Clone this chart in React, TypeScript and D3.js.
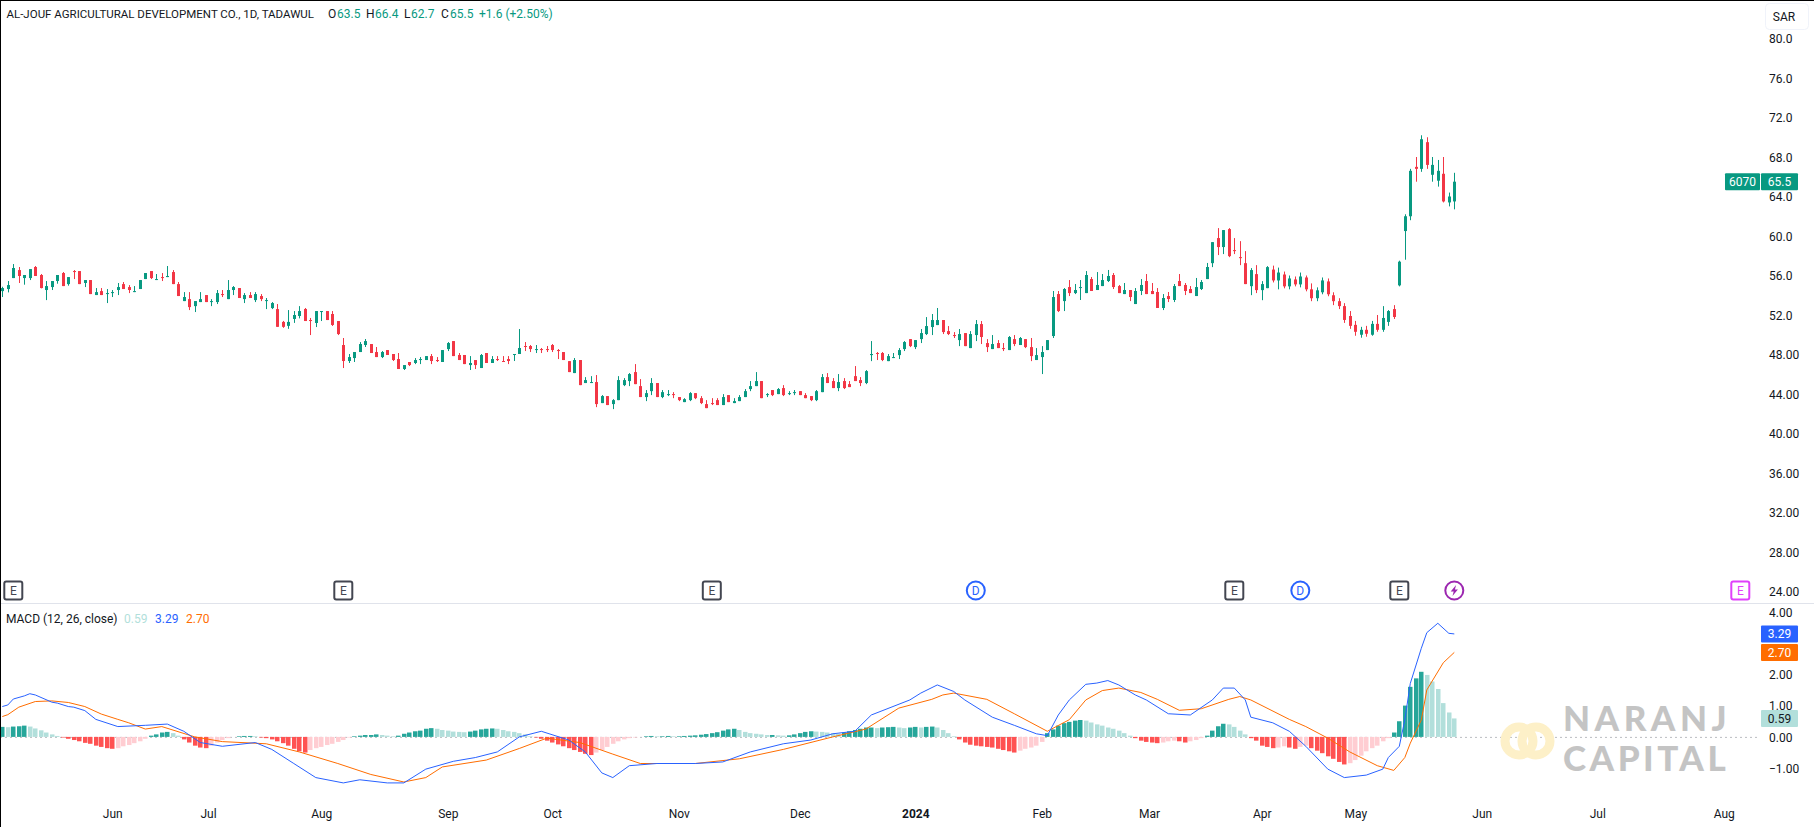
import { useRef, useEffect } from 'react'
import * as d3 from 'd3'

const WIDTH = 1814
const HEIGHT = 827

const opens = [54.42,54.63,55.74,56.55,55.74,55.74,56.86,56.05,54.53,54.83,55.44,56.25,55.13,56.45,56.45,55.24,55.54,54.02,54.42,54.12,54.22,54.53,55.13,54.83,54.32,54.63,55.64,56.45,55.54,55.84,55.84,56.35,55.13,53.41,53.61,52.9,53.31,54.02,53.31,53.31,54.12,53.61,54.53,54.73,53.61,54.02,53.51,53.92,53.41,52.7,52.6,51.3,50.9,51.6,51.9,52.61,51.49,51.19,52.3,52.4,52.1,51.39,48.96,47.34,47.64,48.25,48.96,49.06,48.25,47.74,48.45,48.05,47.54,46.53,47.24,47.14,47.44,47.44,47.84,47.44,47.24,48.55,49.36,47.95,47.95,46.93,47.44,46.63,48.15,47.14,47.54,47.34,47.54,47.95,48.05,48.86,48.86,48.45,48.55,48.55,48.96,48.45,48.25,47.33,46.12,47.44,45.11,45.11,45.21,43.08,43.79,42.98,43.38,44.9,45.31,46.22,44.8,43.69,44.29,45.11,43.69,43.89,43.99,43.69,43.18,43.38,44.09,43.58,42.98,43.08,43.38,42.88,43.89,43.08,43.28,43.69,44.5,44.8,45.31,43.89,44.4,43.99,44.6,43.99,44.09,44.29,43.89,43.79,43.38,44.19,45.71,45.31,44.6,45.31,45.0,45.81,45.41,45.11,47.94,48.15,48.15,47.33,47.64,47.94,48.55,49.56,48.75,49.56,50.07,50.78,50.98,51.49,50.37,49.97,49.46,50.17,48.65,49.97,51.08,49.16,48.55,49.16,48.65,48.45,49.56,48.96,49.56,48.75,47.44,47.74,48.45,49.87,54.12,53.41,54.83,54.22,54.73,54.22,55.64,54.53,54.93,55.44,56.05,54.93,54.12,54.53,53.11,54.43,55.44,54.43,54.33,52.71,53.92,53.52,55.44,55.04,54.63,53.92,54.63,55.64,57.25,59.79,58.88,60.7,58.57,57.86,57.25,54.92,56.14,54.52,54.72,56.6,55.5,56.1,54.9,55.6,55.1,55.8,54.6,53.7,54.3,55.4,54,53.4,52.9,51.9,51,50,50.5,50,51.1,50.5,51.3,52.6,55,60.5,62,67,66.8,69.5,66.2,65.6,66.3,63.4,63.5]
const highs = [54.86,55.44,57.16,56.86,56.05,56.65,56.96,56.15,55.44,55.44,56.05,56.35,55.84,56.55,56.45,55.54,55.54,54.73,54.73,54.63,54.53,55.24,55.34,55.03,54.93,55.54,56.25,56.45,56.15,56.25,56.96,56.55,55.34,54.32,54.32,53.41,54.32,54.02,53.61,54.53,54.53,55.54,54.93,54.73,54.22,54.32,54.32,54.12,53.72,53.31,53.11,51.4,52.5,52.4,52.9,52.71,51.7,52.4,52.4,52.4,52.4,51.39,49.67,48.05,48.25,49.26,49.57,49.06,48.76,48.35,48.45,48.05,48.15,46.93,47.24,47.64,47.74,47.84,48.05,47.74,48.45,49.26,49.36,48.15,47.95,47.84,47.44,48.05,48.15,47.84,47.84,47.84,47.84,48.05,50.58,49.26,48.96,48.96,48.66,48.86,49.06,48.55,48.25,47.33,47.64,47.44,45.71,45.81,45.92,43.89,43.79,43.48,45.81,45.61,46.12,47.03,45.51,44.4,45.61,45.11,44.4,44.4,44.19,43.69,43.58,44.19,44.09,43.79,43.38,43.58,43.58,43.99,43.89,43.58,43.89,44.5,45.31,46.22,45.31,44.09,44.4,44.6,44.9,44.29,44.4,44.29,44.09,43.79,44.4,46.02,46.12,45.61,46.02,45.61,45.31,46.83,45.71,46.42,49.36,48.25,48.25,48.05,48.15,48.65,49.36,49.56,49.46,50.58,51.79,52.1,52.71,51.49,50.88,50.27,50.58,50.17,50.37,51.49,51.39,49.56,49.97,49.46,49.16,49.87,49.97,49.77,49.56,49.67,48.65,48.85,49.46,54.43,54.43,54.73,55.54,55.14,55.54,56.45,55.85,56.35,56.15,56.56,56.25,55.04,55.24,54.53,54.73,55.64,56.15,55.24,54.73,54.12,54.33,55.14,56.15,55.24,54.93,55.75,55.54,57.27,59.38,60.8,60.6,60.8,59.79,59.48,58.47,56.75,57.05,55.43,56.95,57,56.8,56.4,56,55.9,56.3,56,55.2,54.8,55.8,55.7,54.3,53.7,53.2,52.4,51.4,50.8,50.9,51.4,52,52.9,52.5,53,57.5,62.2,66.8,68,70.2,70,68,67.7,68,64.4,66.4]
const lows = [53.82,54.29,55.74,55.24,55.07,55.54,55.95,54.7,53.51,54.53,55.17,54.93,54.97,55.64,55.13,54.83,54.12,54.02,54.02,53.21,53.82,54.02,54.63,54.22,54.32,54.63,55.64,55.64,55.54,55.44,55.84,55.13,53.92,53.41,52.5,52.3,53.31,53.31,52.9,53.11,53.82,53.61,54.02,53.72,53.21,53.72,53.31,53.41,52.6,52.6,50.8,50.7,50.6,51.2,51.66,51.39,49.97,50.78,51.39,51.49,50.89,49.97,46.63,47.14,47.24,48.25,48.76,48.15,47.74,47.64,47.95,47.34,46.53,46.43,46.83,47.03,47.03,47.44,47.03,47.24,47.24,48.35,47.84,47.44,47.03,46.43,46.53,46.63,47.14,47.14,47.34,47.24,47.03,47.34,48.05,48.35,48.25,48.15,48.15,48.25,48.25,47.54,47.44,46.22,46.12,44.9,45.11,45.11,42.67,43.08,42.88,42.47,43.38,44.8,44.8,45.0,43.69,43.28,43.89,43.69,43.58,43.79,43.58,43.28,43.18,43.28,43.48,42.98,42.57,42.88,42.88,42.88,43.18,43.08,43.28,43.69,44.29,44.8,43.58,43.69,43.79,43.99,43.79,43.89,43.89,43.89,43.58,43.28,43.28,44.19,45.11,44.6,44.29,44.5,44.7,45.31,44.8,45.0,47.33,47.44,47.33,47.33,47.64,47.54,48.35,48.75,48.55,49.16,49.97,49.97,50.98,50.07,49.97,49.67,48.85,48.85,48.65,49.36,49.06,48.25,48.55,48.65,48.35,48.45,48.85,48.96,48.65,47.33,47.44,46.02,48.45,49.67,52.3,52.4,53.92,54.12,53.52,54.22,54.43,54.53,54.93,55.34,54.63,54.22,54.12,53.41,53.11,54.02,54.12,54.12,52.71,52.5,53.31,53.31,54.93,54.02,54.22,53.92,54.53,55.64,56.85,58.07,58.17,57.86,58.17,57.05,55.13,54.01,54.22,53.5,54.72,55.3,54.6,54.7,54.6,54.9,54.8,54.4,53.4,53.4,54.1,53.9,53,52.6,51.2,50.6,49.9,49.7,49.8,49.9,50.3,50.3,50.9,51.6,54.9,57.6,61.6,65.5,66.5,66.8,65.5,65,63.4,63,62.7]
const closes = [54.73,55.03,56.76,55.95,56.05,56.65,55.95,54.73,54.93,55.44,56.05,54.93,55.84,56.35,55.13,55.54,54.12,54.32,54.02,54.22,54.32,54.83,54.63,54.53,54.42,55.54,56.25,55.74,55.64,55.74,55.95,55.13,53.92,53.82,52.8,53.41,53.61,53.31,53.41,54.22,54.02,54.53,54.83,53.72,54.02,53.72,54.12,53.61,53.51,53.21,50.8,50.8,51.3,52,52.4,51.39,51.39,52.4,52.4,51.49,50.99,50.07,47.34,47.74,48.25,49.06,49.36,48.15,47.74,48.25,47.95,47.44,46.53,46.93,46.93,47.44,47.54,47.84,47.34,47.34,48.45,49.16,47.84,47.44,47.03,47.14,46.93,47.95,47.14,47.54,47.44,47.24,47.34,48.05,48.66,48.76,48.55,48.55,48.45,48.45,48.45,48.35,47.44,46.22,47.44,44.9,45.41,45.21,42.98,43.79,42.88,43.38,45.41,45.41,46.02,45.0,43.69,44.09,45.11,43.69,44.19,43.99,43.89,43.38,43.48,44.09,43.58,43.08,42.57,42.98,42.88,43.69,43.18,43.28,43.69,44.29,44.8,45.31,43.58,43.99,43.89,44.5,43.89,44.09,44.19,43.89,43.58,43.38,44.29,45.71,45.11,44.6,45.21,44.6,44.7,45.31,45.11,46.32,48.05,48.05,47.44,47.84,47.74,48.45,49.26,48.85,49.46,50.17,50.88,51.49,51.49,50.27,50.07,49.87,50.07,48.85,50.07,51.08,49.77,48.75,49.06,48.65,48.55,49.77,49.06,49.67,48.75,47.84,47.94,48.25,49.46,53.82,52.4,54.63,54.22,54.53,54.83,56.05,54.43,55.04,55.54,55.95,54.83,54.22,54.53,53.82,54.43,55.04,54.12,54.12,52.71,53.72,53.62,54.93,54.93,54.43,54.22,54.83,55.34,56.86,59.38,58.88,60.6,57.96,58.47,57.76,55.13,56.55,54.52,55.13,56.85,55.5,56.3,54.9,55.7,55.1,55.9,54.6,53.7,54.5,55.5,54.1,53.4,52.9,51.5,50.9,50.3,50.5,50.1,51.1,50.5,51.7,52.4,51.8,57.4,62,66.6,66.8,69.8,67.2,67.2,66.6,63.5,64,65.5]

const histogram = [
  .32,.31,.33,.34,.36,.33,.27,.21,.14,.08,
  .03,-.02,-.06,-.10,-.14,-.19,-.22,-.28,-.32,-.36,
  -.38,-.36,-.30,-.26,-.20,-.14,-.06,.04,.08,.14,
  .16,.12,.04,-.08,-.18,-.28,-.34,-.36,-.28,-.18,
  -.10,-.04,.00,.02,.03,.03,.02,-.02,-.04,-.08,
  -.14,-.20,-.28,-.38,-.46,-.50,-.42,-.36,-.32,-.26,
  -.22,-.16,-.10,-.02,.02,.04,.06,.06,.08,.06,
  .04,.02,.04,.10,.14,.18,.20,.26,.28,.26,
  .22,.20,.17,.16,.15,.17,.20,.24,.26,.27,
  .26,.22,.18,.16,.12,.08,.02,-.02,-.06,-.12,
  -.18,-.24,-.30,-.36,-.42,-.48,-.54,-.58,-.50,-.42,
  -.32,-.22,-.14,-.08,-.04,-.02,.00,.02,.03,.02,
  .02,.03,.02,.02,.03,.04,.05,.07,.09,.12,
  .15,.20,.24,.26,.22,.16,.12,.10,.08,.06,
  .06,.05,.04,.05,.08,.12,.16,.18,.17,.16,
  .14,.12,.10,.14,.18,.22,.26,.30,.30,.28,
  .30,.31,.32,.30,.28,.30,.32,.30,.32,.33,
  .30,.22,.12,.02,-.08,-.18,-.25,-.28,-.30,-.32,
  -.34,-.38,-.42,-.46,-.50,-.44,-.38,-.34,-.28,-.16,
  .12,.24,.36,.44,.48,.52,.54,.52,.46,.40,
  .36,.30,.26,.20,.12,.04,-.04,-.12,-.16,-.18,
  -.20,-.18,-.14,-.12,-.14,-.18,-.14,-.10,-.04,.04,
  .20,.34,.42,.40,.32,.20,.08,-.04,-.12,-.28,
  -.32,-.36,-.34,-.30,-.34,-.38,-.32,-.28,-.36,-.44,
  -.52,-.62,-.70,-.80,-.88,-.84,-.74,-.60,-.46,-.36,
  -.28,-.14,-.04,.14,.50,1.0,1.6,1.87,2.08,1.98,
  1.77,1.53,1.08,.78,.59,
]

// MACD and signal at these bars
const macdBars = [1,2,3,5,6,7,10,11,13,14,16,18,22,27,31,34,37,41,47,50,54,58,63,66,71,74,78,83,87,91,95,99,104,107,110,112,115,120,127,132,137,143,148,152,156,159,166,168,171,174,176,181,185,189,191,193,195,198,200,202,204,207,209,213,217,221,223,225,227,228,232,235,238,242,245,249,252,253,255,256,257,259,260,262,264,265]
const macdLine = [.97,1.02,1.21,1.31,1.38,1.34,1.11,1.08,.97,.95,.84,.56,.33,.37,.41,.18,-.18,-.3,-.18,-.4,-.85,-1.3,-1.47,-1.37,-1.47,-1.47,-1.03,-.78,-.66,-.48,0,.18,-.1,-.48,-1.15,-1.3,-.92,-.85,-.85,-.8,-.48,-.22,-.1,.1,.18,.7,1.18,1.4,1.66,1.45,1.18,.63,.37,.1,.04,.7,1.18,1.68,1.72,1.8,1.66,1.34,1.18,.74,.7,1.18,1.56,1.56,1.18,.63,.45,.18,-.3,-1.03,-1.3,-1.22,-1.03,-.66,-.3,.54,1.71,2.83,3.33,3.63,3.31,3.29]
const signalBars = [1,2,4,7,10,13,16,19,22,24,27,30,36,41,49,55,62,68,74,78,81,89,95,100,106,112,117,127,135,143,152,158,164,170,172,174,180,185,191,195,198,201,204,208,211,215,219,224,226,228,235,238,242,246,251,254,256,257,259,260,263,265]
const signalLine = [.65,.71,.95,1.13,1.15,1.10,.97,.73,.56,.45,.25,.33,0,-.15,-.22,-.48,-.85,-1.2,-1.44,-1.3,-.96,-.74,-.37,-.04,-.18,-.55,-.85,-.85,-.7,-.4,0,.25,.92,1.2,1.34,1.40,1.2,.74,.18,.55,1.18,1.48,1.56,1.42,1.2,.85,.9,1.2,1.29,1.18,.56,.33,-.04,-.48,-.92,-1.07,-.66,-.2,.54,1.5,2.37,2.70]

const priceTicks = [80,76,72,68,64,60,56,52,48,44,40,36,32,28,24]
const priceTickLabels = ['80.0','76.0','72.0','68.0','64.0','60.0','56.0','52.0','48.00','44.00','40.00','36.00','32.00','28.00','24.00']
const macdTicks = [4,2,1,0,-1]
const macdTickLabels = ['4.00','2.00','1.00','0.00','−1.00']
const monthBars = [21,38.4,59,82,101,124,146,167,190,209.5,230,247,270,291,314]
const monthLabels = ['Jun','Jul','Aug','Sep','Oct','Nov','Dec','2024','Feb','Mar','Apr','May','Jun','Jul','Aug']
const eventBars = [3,63,130,178,225,237,255,265,317]
const eventKinds = ['E','E','E','D','E','D','E','S','F']

const UP = '#089981'
const DOWN = '#f23645'
const BLUE = '#2962ff'
const ORANGE = '#ff6d00'
const FONT = 'Roboto, "Noto Sans", sans-serif'

export default function App() {
  const svgRef = useRef<SVGSVGElement>(null)

  useEffect(() => {
    if (!svgRef.current) return
    const svg = d3.select(svgRef.current)
    svg.selectAll('*').remove()
    svg.attr('font-family', FONT)

    // Scales
    const x = d3.scaleLinear().domain([1, 265]).range([2.3, 1454.3])
    const y = d3.scaleLinear().domain([80, 24]).range([38.5, 591.5])
    const yMacd = d3.scaleLinear().domain([4, -1]).range([611.7, 768.2])
    const px = (i: number) => Math.round(x(i))

    // Zero line and pane divider
    svg.append('line').attr('x1', 0).attr('x2', 1760)
      .attr('y1', yMacd(0) + 0.5).attr('y2', yMacd(0) + 0.5)
      .attr('stroke', '#787b86').attr('stroke-opacity', 0.5).attr('stroke-dasharray', '2,3')
    svg.append('line').attr('x1', 0).attr('x2', WIDTH).attr('y1', 603.5).attr('y2', 603.5)
      .attr('stroke', '#e0e3eb')

    // Histogram
    svg.append('g').selectAll('rect').data(histogram).join('rect')
      .attr('x', (_, i) => px(i + 1) - 2)
      .attr('width', 4.5)
      .attr('y', (d) => Math.min(yMacd(d), yMacd(0)))
      .attr('height', (d) => Math.abs(yMacd(d) - yMacd(0)))
      .attr('fill', (d, i) => {
        const prev = i > 0 ? histogram[i - 1] : 0
        if (d >= 0) return d >= prev ? '#26a69a' : '#b2dfdb'
        return d < prev ? '#ff5252' : '#ffcdd2'
      })

    // MACD lines
    const line = d3.line<[number, number]>().x((d) => x(d[0])).y((d) => yMacd(d[1]))
    svg.append('path').attr('d', line(signalBars.map((b, i) => [b, signalLine[i]] as [number, number])))
      .attr('fill', 'none').attr('stroke', ORANGE).attr('stroke-width', 1)
    svg.append('path').attr('d', line(macdBars.map((b, i) => [b, macdLine[i]] as [number, number])))
      .attr('fill', 'none').attr('stroke', BLUE).attr('stroke-width', 1)

    // Candles
    const candles = svg.append('g').selectAll('g').data(closes).join('g')
      .attr('fill', (c, i) => (c >= opens[i] ? UP : DOWN))
    candles.append('rect')
      .attr('x', (_, i) => px(i + 1))
      .attr('width', 1)
      .attr('y', (_, i) => y(highs[i]))
      .attr('height', (_, i) => y(lows[i]) - y(highs[i]))
    candles.append('rect')
      .attr('x', (_, i) => px(i + 1) - 1)
      .attr('width', 3)
      .attr('y', (c, i) => y(Math.max(c, opens[i])))
      .attr('height', (c, i) => Math.max(1, Math.abs(y(c) - y(opens[i]))))

    // Watermark
    const mark = svg.append('g')
    mark.append('circle').attr('cx', 1519).attr('cy', 741).attr('r', 14)
      .attr('fill', 'none').attr('stroke', '#fdf0c8').attr('stroke-width', 9)
    mark.append('circle').attr('cx', 1536).attr('cy', 741).attr('r', 14)
      .attr('fill', 'none').attr('stroke', '#fdf0c8').attr('stroke-width', 9)
    mark.append('text').attr('x', 1563).attr('y', 731).text('NARANJ')
      .attr('font-family', 'Lato, sans-serif').attr('font-weight', 900).attr('font-size', 35)
      .attr('letter-spacing', 4.5).attr('fill', '#c4c4c4')
    mark.append('text').attr('x', 1563).attr('y', 771).text('CAPITAL')
      .attr('font-family', 'Lato, sans-serif').attr('font-weight', 900).attr('font-size', 35)
      .attr('letter-spacing', 3.5).attr('fill', '#c4c4c4')

    // Axes
    const priceAxis = d3.axisRight(y).tickValues(priceTicks).tickSize(0).tickPadding(0)
      .tickFormat((_, i) => priceTickLabels[i])
    const macdAxis = d3.axisRight(yMacd).tickValues(macdTicks).tickSize(0).tickPadding(0)
      .tickFormat((_, i) => macdTickLabels[i])
    const timeAxis = d3.axisBottom(x).tickValues(monthBars).tickSize(0).tickPadding(0)
      .tickFormat((_, i) => monthLabels[i])
    const axes = [
      svg.append('g').attr('transform', 'translate(1769,0.5)').call(priceAxis),
      svg.append('g').attr('transform', 'translate(1769,0.5)').call(macdAxis),
      svg.append('g').attr('transform', 'translate(0,809)').call(timeAxis),
    ]
    axes.forEach((a) => {
      a.select('.domain').remove()
      a.attr('font-family', FONT).attr('font-size', 12)
      a.selectAll('text').attr('fill', '#131722')
    })
    axes[2].selectAll('text').attr('font-weight', (_, i) => (monthLabels[i] === '2024' ? 700 : 400))

    // Event markers
    const events = svg.append('g').selectAll('g').data(eventKinds).join('g')
      .attr('transform', (_, i) => `translate(${x(eventBars[i])},590.5)`)
    events.each(function (kind) {
      const g = d3.select(this)
      const color = kind === 'D' ? BLUE : kind === 'S' ? '#9c27b0' : kind === 'F' ? '#e040fb' : '#434651'
      if (kind === 'E' || kind === 'F') {
        g.append('rect').attr('x', -9).attr('y', -9).attr('width', 18).attr('height', 18).attr('rx', 2)
          .attr('fill', '#fff').attr('stroke', color).attr('stroke-width', 2)
      } else {
        g.append('circle').attr('r', 9).attr('fill', '#fff').attr('stroke', color).attr('stroke-width', 2)
      }
      if (kind === 'S') {
        g.append('path').attr('d', 'M1.8,-5.5 L-3.6,1 L-0.6,1 L-1.8,5.5 L3.6,-1 L0.6,-1 Z').attr('fill', color)
      } else {
        g.append('text').attr('text-anchor', 'middle').attr('y', 4.5).attr('font-size', 12)
          .attr('fill', color).text(kind === 'D' ? 'D' : 'E')
      }
    })

    // Legend text
    const legend = (px0: number, py: number, s: string, fill: string, size = 12) =>
      svg.append('text').attr('x', px0).attr('y', py).attr('font-size', size).attr('fill', fill).text(s)
    legend(6.5, 18, 'AL-JOUF AGRICULTURAL DEVELOPMENT CO., 1D, TADAWUL', '#131722', 11.5)
    const ohlc: [string, string, number][] = [['O', '63.5', 328], ['H', '66.4', 366], ['L', '62.7', 404], ['C', '65.5', 441]]
    ohlc.forEach(([k, v, lx]) => {
      legend(lx, 18, k, '#131722')
      legend(lx + (k === 'L' ? 7 : 9), 18, v, UP)
    })
    legend(479, 18, '+1.6 (+2.50%)', UP)
    legend(6, 623, 'MACD (12, 26, close)', '#131722')
    legend(124, 623, '0.59', '#b2dfdb')
    legend(155, 623, '3.29', BLUE)
    legend(186, 623, '2.70', ORANGE)

    // Currency button
    svg.append('rect').attr('x', 1765.5).attr('y', 3.5).attr('width', 43).attr('height', 26).attr('rx', 4)
      .attr('fill', '#fff').attr('stroke', '#f0f3fa')
    svg.append('text').attr('x', 1784).attr('y', 21).attr('text-anchor', 'middle').attr('font-size', 12)
      .attr('fill', '#131722').text('SAR')

    // Value tags
    const tag = (x0: number, w: number, cy: number, s: string, fill: string, text = '#fff') => {
      svg.append('rect').attr('x', x0).attr('y', cy - 8.5).attr('width', w).attr('height', 17).attr('rx', 1).attr('fill', fill)
      svg.append('text').attr('x', x0 + w / 2).attr('y', cy + 4.5).attr('text-anchor', 'middle')
        .attr('font-size', 12).attr('fill', text).text(s)
    }
    tag(1725, 35, y(closes[264]), '6070', UP)
    tag(1761, 37, y(closes[264]), '65.5', UP)
    tag(1761, 37, yMacd(macdLine[macdLine.length - 1]), '3.29', BLUE)
    tag(1761, 37, yMacd(signalLine[signalLine.length - 1]), '2.70', ORANGE)
    tag(1761, 37, yMacd(histogram[264]), '0.59', '#b2dfdb', '#131722')

    // Page edge lines
    svg.append('rect').attr('x', 0).attr('y', 0).attr('width', WIDTH).attr('height', 1).attr('fill', '#000')
    svg.append('rect').attr('x', 0).attr('y', 0).attr('width', 1).attr('height', HEIGHT).attr('fill', '#000')
  }, [])

  return (
    <svg
      ref={svgRef}
      width={WIDTH}
      height={HEIGHT}
      style={{ position: 'absolute', left: 0, top: 0, display: 'block', background: '#fff' }}
    />
  )
}
